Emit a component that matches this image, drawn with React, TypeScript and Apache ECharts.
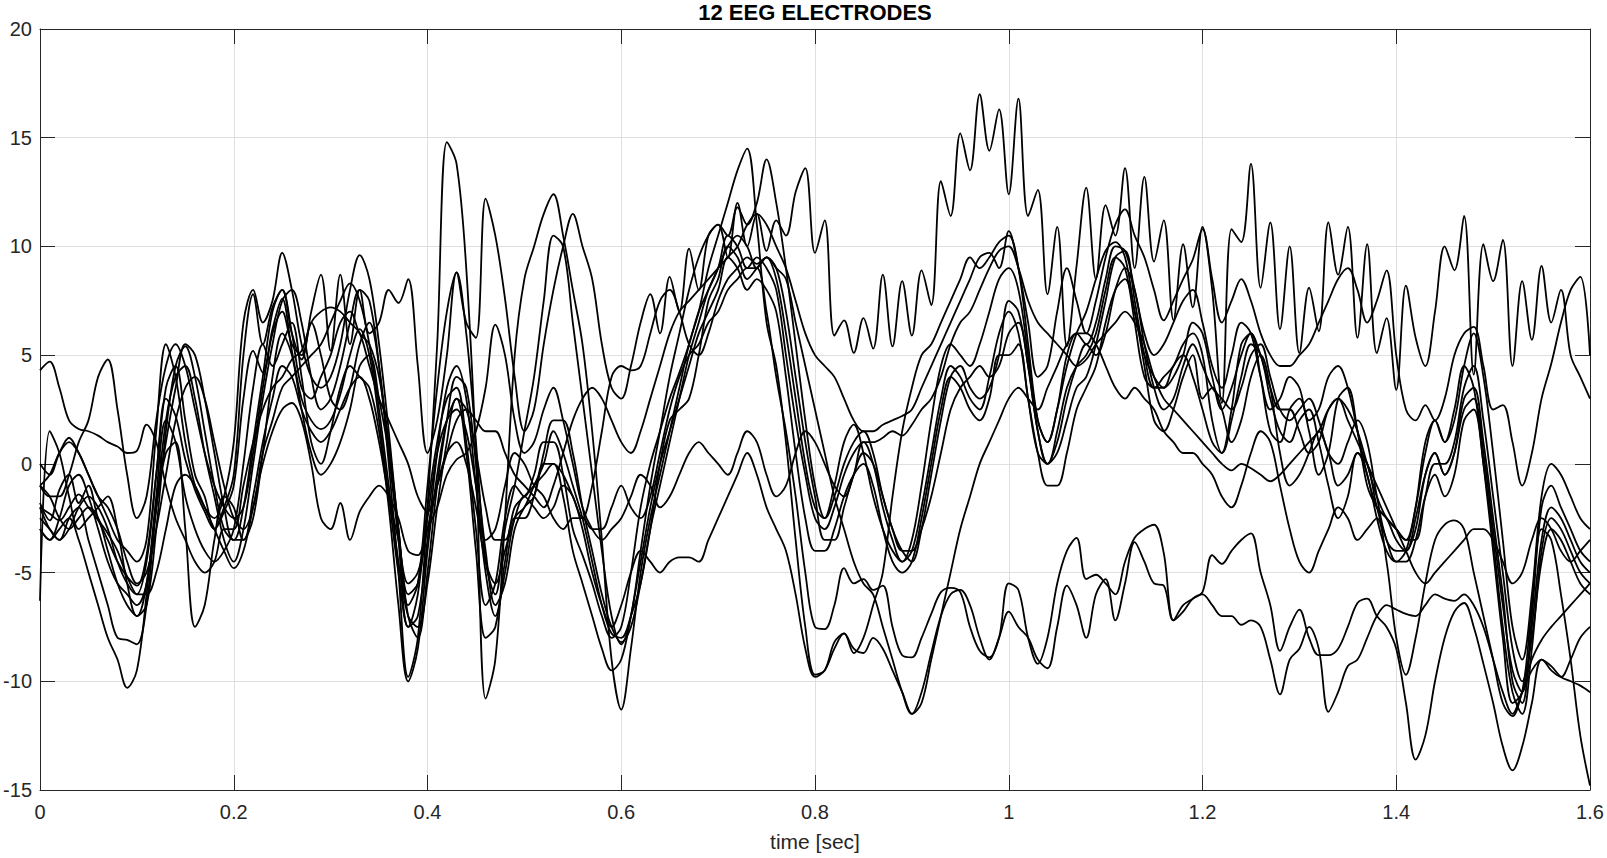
import React, { useEffect, useRef } from "react";
import * as echarts from "echarts";

const TITLE = "12 EEG ELECTRODES";
const X_NAME = "time [sec]";
const X_TICKS = { min: 0, max: 1.6, step: 0.2 };
const Y_TICKS = { min: -15, max: 20, step: 5 };

// sample times (0 .. 1.6 s, 10 ms spacing)
const TIME: number[] = Array.from({ length: 161 }, (_, i) => i / 100);

const E1 = [
  -1.8, -2.6, -1.2, -0.5, -1.8, -1.0, -2.5, -3.2, -4.0, -5.2,
  -6.0, -4.5, -0.5, 3.5, 4.5, 2.0, -0.5, -1.5, -3.0, -2.0,
  -0.5, 5.0, 7.8, 5.5, 7.2, 8.0, 6.0, 4.8, 7.0, 8.7,
  5.2, 8.7, 5.5, 8.0, 6.0, 6.5, 8.0, 7.4, 8.5, 4.5,
  0.5, 2.0, 5.0, 8.8, 6.5, 5.8, 12.2, 10.5, 7.6, 4.0,
  1.5, 2.5, 5.5, 8.0, 10.0, 11.5, 10.0, 8.5, 5.5, 3.5,
  3.0, 4.5, 6.5, 7.8, 6.0, 8.6, 7.0, 9.9, 8.0, 10.5,
  11.0, 9.5, 12.0, 10.0, 11.5, 9.8, 11.2, 10.5, 12.5, 13.6,
  9.7, 11.2, 5.9, 6.6, 5.1, 6.7, 5.3, 8.7, 5.4, 8.4,
  5.9, 8.9, 7.3, 13.0, 11.4, 15.2, 13.5, 17.0, 14.4, 16.3,
  12.4, 16.8, 11.4, 12.6, 7.8, 10.9, 5.4, 9.1, 12.7, 8.5,
  11.9, 10.5, 13.6, 9.0, 13.2, 9.3, 11.2, 6.6, 10.1, 7.2,
  10.9, 8.0, 2.8, 10.8, 10.2, 13.8, 8.1, 11.1, 6.2, 10.0,
  5.1, 8.1, 6.1, 11.1, 8.7, 10.9, 5.8, 10.1, 5.1, 6.7,
  3.4, 8.2, 5.8, 4.5, 7.0, 10.0, 8.9, 11.4, 4.1, 10.1,
  8.4, 10.3, 4.5, 8.4, 5.7, 9.1, 6.5, 8.0, 5.0, 4.0,
  3.0,
];

const E2 = [
  -3.0, -3.5, -2.5, -1.0, -0.5, -1.5, -3.0, -4.5, -5.5, -6.0,
  -6.5, -5.5, -2.0, 2.0, 4.0, 4.5, 3.0, 0.5, -1.5, -3.5,
  -4.5, -3.0, 0.0, 3.0, 5.5, 7.5, 8.0, 6.5, 4.0, 2.5,
  3.0, 4.5, 6.5, 8.0, 7.5, 4.5, 0.0, -5.0, -9.8, -8.0,
  -2.0, 5.5, 14.8, 13.8, 9.0, 0.5, -10.8, -9.0, -2.5, 5.0,
  8.5, 10.0, 11.5, 12.4, 10.5, 8.0, 5.5, 1.5, -3.5, -9.0,
  -11.3, -8.5, -5.0, -2.5, -0.5, 1.5, 3.5, 5.5, 7.0, 9.0,
  10.5, 12.0, 13.5, 14.5, 11.0, 6.5, 4.5, 1.0, -3.5, -7.5,
  -9.7, -9.5, -8.2, -7.8, -8.7, -8.0, -6.5, -5.0, -1.5, 1.5,
  3.5, 5.0, 5.5, 6.5, 7.5, 8.5, 9.5, 9.0, 9.5, 10.2,
  10.5, 9.0, 5.5, 2.0, 1.0, 2.5, 4.5, 6.0, 7.0, 8.5,
  9.8, 10.2, 9.5, 7.0, 5.0, 4.0, 3.5, 4.5, 5.0, 4.0,
  2.5, 1.0, 0.5, 2.0, 4.0, 5.5, 5.0, 3.0, 1.5, 1.0,
  2.0, 2.5, 1.0, -1.0, -2.5, -1.5, 0.5, 0.0, -2.0, -3.5,
  -4.5, -4.0, -2.0, 1.0, 2.0, 1.0, 2.5, 4.5, 3.5, 0.0,
  -4.0, -8.0, -11.0, -10.5, -6.5, -3.0, -3.5, -6.0, -9.0, -12.5,
  -14.8,
];

const E3 = [
  -2.0, -2.3, -2.6, -2.0, -1.4, -2.0, -2.6, -3.5, -4.5, -5.2,
  -5.6, -4.2, -0.5, 3.0, 2.2, 0.2, -1.2, -2.2, -3.0, -2.2,
  -1.0, 3.0, 5.2, 4.2, 6.2, 7.6, 5.2, 3.0, 2.0, 1.6,
  2.0, 3.2, 5.0, 6.2, 5.0, 2.0, -1.5, -5.0, -7.5, -6.0,
  -2.0, 1.0, 3.0, 3.5, 1.0, -3.0, -6.5, -5.5, -2.5, -1.0,
  -1.5, -0.5, 1.0, 1.0, -0.5, -3.0, -4.2, -5.5, -7.0, -8.0,
  -7.5, -5.0, -2.0, 0.0, 1.5, 3.0, 4.2, 5.5, 7.0, 8.0,
  9.0, 10.5, 10.0, 9.0, 9.5, 9.0, 8.0, 5.0, 2.0, -0.5,
  -2.5, -3.0, -2.0, -0.5, 0.5, 1.0, 0.0, -2.0, -3.5, -4.5,
  -4.0, -2.0, 0.5, 3.0, 4.5, 4.0, 3.0, 2.5, 4.0, 6.0,
  7.0, 6.0, 3.0, 0.5, 0.0, 1.5, 3.5, 4.5, 5.0, 6.0,
  8.0, 9.5, 9.0, 6.5, 4.0, 3.5, 4.0, 4.5, 5.5, 6.0,
  5.0, 2.0, 0.5, 2.5, 5.5, 6.0, 4.0, 1.5, 1.0, 2.5,
  3.0, 1.5, -0.5, 0.5, 3.0, 3.5, 1.5, -1.0, -2.0, -2.5,
  -3.5, -4.0, -3.0, -0.5, 0.5, -0.5, 0.5, 3.0, 3.5, 1.0,
  -2.5, -6.0, -10.0, -11.0, -7.0, -2.0, -1.0, -2.0, -3.0, -4.0,
  -4.5,
];

const E4 = [
  -1.0, -0.5, 0.5, 1.0, 0.5, -0.5, -1.5, -2.5, -3.5, -4.0,
  -4.5, -3.5, 1.5, 5.5, 4.0, 1.0, -1.0, -2.0, -2.5, -1.5,
  1.0, 6.5, 8.0, 6.5, 7.5, 9.7, 8.0, 5.5, 4.0, 3.5,
  4.0, 5.5, 8.0, 9.6, 8.5, 5.5, 1.5, -3.0, -6.5, -5.5,
  -1.0, 3.5, 7.0, 8.8, 6.0, 1.0, -4.5, -6.0, -3.0, -1.0,
  1.5, 4.0, 7.5, 10.5, 10.0, 6.5, 3.0, -0.5, -4.0, -7.0,
  -8.3, -7.0, -4.0, -1.0, 1.5, 4.0, 6.0, 8.0, 9.5, 10.5,
  11.0, 10.5, 11.8, 11.0, 12.0, 14.0, 12.0, 9.0, 5.5, 2.0,
  -1.0, -2.5, -1.0, 1.0, 1.8, 0.5, -1.5, -3.0, -4.0, -4.5,
  -3.5, -1.0, 2.0, 4.5, 5.5, 5.0, 4.5, 5.5, 7.0, 8.5,
  9.0, 8.0, 5.0, 2.0, 1.0, 2.5, 5.0, 6.0, 5.5, 6.5,
  8.5, 10.0, 9.8, 8.0, 6.0, 5.0, 5.5, 6.5, 7.5, 8.0,
  6.5, 4.5, 3.5, 5.0, 6.5, 6.0, 4.0, 2.5, 3.0, 4.0,
  3.5, 2.0, 2.5, 4.0, 4.5, 3.5, 1.5, -0.5, -2.0, -2.5,
  -3.0, -3.5, -2.0, 0.5, 2.0, 1.0, 2.0, 4.5, 6.0, 4.0,
  0.5, -3.5, -7.5, -9.0, -6.0, -1.5, 0.0, -0.5, -1.5, -2.5,
  -3.0,
];

const E5 = [
  -3.0, -3.5, -3.0, -2.5, -3.5, -5.0, -6.5, -8.0, -9.0, -10.3,
  -9.5, -6.0, -1.5, 2.0, 1.0, -1.5, -3.0, -4.0, -4.5, -4.0,
  -3.0, 0.0, 3.5, 5.5, 4.5, 5.5, 6.5, 4.0, 1.0, 0.0,
  1.5, 3.5, 4.5, 4.0, 3.5, 1.5, -2.0, -6.5, -10.0, -8.5,
  -4.0, -0.5, 2.0, 3.0, 0.5, -4.0, -8.0, -7.5, -4.5, -2.5,
  -2.5, -1.5, 0.0, 0.0, -1.5, -4.0, -5.5, -7.0, -8.5, -9.5,
  -9.0, -7.0, -4.5, -2.0, 0.0, 1.5, 3.0, 4.5, 6.0, 7.0,
  8.0, 9.5, 9.0, 8.0, 8.5, 8.0, 7.0, 4.0, 0.5, -2.5,
  -4.0, -4.0, -3.0, -1.5, -0.5, 0.0, -1.0, -3.0, -4.5, -5.0,
  -4.5, -2.5, 0.0, 2.5, 4.0, 3.5, 2.5, 2.0, 3.0, 5.0,
  5.0, 5.5, 3.0, 0.5, -1.0, -1.0, 0.5, 2.5, 3.5, 4.5,
  6.5, 8.0, 8.5, 7.0, 4.5, 2.0, 1.5, 2.5, 4.0, 5.0,
  3.0, 3.5, 2.5, 1.0, 2.0, 4.0, 5.0, 3.5, 0.5, -1.0,
  -0.5, 0.5, 1.5, 0.5, -1.0, -0.5, 0.5, -0.5, -2.5, -4.0,
  -4.5, -4.5, -3.5, -1.5, -0.5, -1.5, -0.5, 2.0, 2.5, 0.0,
  -3.5, -7.5, -10.5, -11.5, -8.5, -4.0, -2.5, -3.0, -4.0, -5.0,
  -5.5,
];

const E6 = [
  -1.0, -1.5, -1.5, -0.5, 1.0, 2.0, 4.0, 4.8, 2.5, -0.5,
  -2.5, -1.5, 2.0, 4.5, 5.5, 4.5, 2.5, 0.5, -1.0, -2.0,
  -2.5, -2.0, 0.5, 3.5, 6.0, 7.0, 5.5, 5.0, 6.5, 5.0,
  3.0, 2.5, 3.5, 5.5, 6.5, 4.5, 0.5, -3.5, -7.5, -7.0,
  -3.5, 0.5, 3.5, 4.5, 3.0, -1.0, -5.0, -7.0, -5.0, -2.5,
  -2.0, -1.0, 0.0, 1.5, 0.5, -1.0, -2.5, -4.5, -6.5, -7.8,
  -8.0, -7.0, -5.5, -3.0, 0.0, 2.0, 2.5, 3.0, 5.0, 7.5,
  8.5, 10.0, 9.5, 8.5, 9.0, 9.5, 8.5, 6.0, 3.0, 0.0,
  -2.0, -2.5, -1.5, 0.0, 1.0, 1.5, 0.5, -1.5, -3.0, -4.0,
  -4.0, -3.0, -1.5, 0.5, 2.5, 3.5, 4.0, 4.5, 4.0, 4.5,
  6.0, 6.5, 4.5, 1.5, 0.0, 1.0, 3.0, 4.5, 5.5, 5.0,
  6.0, 8.0, 9.0, 8.0, 5.5, 3.5, 2.5, 3.0, 4.5, 5.5,
  4.5, 3.5, 3.0, 2.5, 3.5, 5.0, 5.5, 4.0, 2.5, 2.0,
  2.5, 3.0, 2.0, 0.5, 0.0, 1.0, 2.0, 1.0, -1.5, -3.5,
  -4.0, -4.0, -2.5, -0.5, 0.5, -0.5, 0.5, 2.5, 3.0, 0.5,
  -3.0, -6.5, -9.5, -10.5, -7.5, -3.5, -2.0, -2.5, -3.5, -4.5,
  -5.0,
];

const E7 = [
  -6.3, 1.5, 0.5, -1.5, -3.0, -2.5, -2.0, -1.5, -3.0, -5.5,
  -7.0, -6.5, -3.0, 1.5, 4.5, 5.4, 4.0, 1.5, -1.0, -3.0,
  -3.5, -2.0, 1.0, 4.0, 7.0, 8.0, 6.0, 3.5, 3.0, 4.0,
  5.0, 6.5, 7.0, 6.0, 5.5, 4.0, 1.0, -3.0, -7.0, -8.0,
  -5.0, -1.0, 2.0, 4.0, 3.5, 0.0, -4.0, -6.5, -5.5, -3.0,
  -2.0, -1.5, 0.5, 2.0, 2.0, 0.5, -2.0, -4.0, -6.0, -7.5,
  -8.2, -7.5, -5.5, -3.0, -1.0, 1.0, 3.0, 5.0, 6.5, 8.0,
  9.0, 10.0, 10.5, 10.0, 9.0, 9.5, 9.0, 7.0, 4.0, 1.0,
  -1.5, -3.5, -3.5, -2.0, -0.5, 0.5, 0.0, -1.5, -3.0, -4.0,
  -4.5, -3.0, -0.5, 2.0, 4.0, 4.5, 3.5, 3.0, 3.5, 5.0,
  7.5, 7.0, 4.5, 1.5, 0.0, 0.5, 2.0, 3.5, 4.0, 5.5,
  7.5, 9.5, 9.8, 7.5, 5.0, 3.5, 3.5, 4.0, 5.0, 6.5,
  6.0, 4.0, 2.5, 3.5, 5.0, 6.0, 5.0, 3.5, 2.5, 2.5,
  1.5, 0.5, 1.0, 2.5, 3.0, 2.5, 1.5, 0.0, -1.5, -2.5,
  -3.0, -3.5, -3.5, -1.5, 0.0, 0.0, 1.0, 3.5, 4.5, 2.0,
  -1.5, -5.0, -8.5, -10.0, -8.0, -4.5, -3.0, -3.5, -4.5, -5.5,
  -6.0,
];

const E8 = [
  -2.0, -3.0, -3.5, -3.0, -2.0, -1.5, -2.0, -3.0, -4.5, -5.5,
  -6.0, -6.0, -5.0, -3.0, -1.0, -0.5, -1.0, -2.0, -3.0, -4.0,
  -4.8, -4.0, -2.0, 0.0, 1.5, 2.5, 2.8, 2.0, 0.0, -2.5,
  -3.0, -1.8, -3.5, -2.2, -1.5, -1.0, -1.5, -2.5, -4.0, -4.2,
  -3.0, -2.0, -0.5, 0.2, 0.5, 1.5, 3.5, 6.4, 5.0, 2.0,
  0.5, 1.0, 2.5, 3.5, 2.0, 0.0, -2.0, -3.0, -3.5, -3.0,
  -2.5, -1.5, -0.5, -1.0, -2.0, -1.5, -0.5, 0.5, 1.0, 0.5,
  0.0, -0.5, 0.5, 1.5, 1.0, -0.5, -1.5, -1.0, 0.5, 1.5,
  1.0, 0.0, -1.0, -1.5, -0.5, 1.0, 1.0, 1.2, 1.5, 1.3,
  1.8, 2.5, 3.0, 4.0, 5.5, 6.5, 7.0, 8.0, 9.0, 9.8,
  10.0, 9.0, 7.5, 6.5, 6.0, 5.5, 5.0, 4.5, 4.8, 5.5,
  6.0, 6.5, 7.0, 6.5, 5.5, 4.0, 3.0, 2.5, 2.0, 1.5,
  1.0, 0.5, 0.0, -0.3, 0.0, -0.2, -0.5, -0.8, -0.5, 0.0,
  0.5, 1.0, 1.5, 2.5, 3.0, 2.0, 1.0, 0.0, -1.0, -2.0,
  -3.0, -4.0, -5.0, -5.5, -5.0, -4.5, -4.0, -3.5, -3.0, -3.0,
  -3.5, -4.5, -5.5, -5.0, -3.5, -2.5, -3.0, -4.0, -4.5, -4.0,
  -3.5,
];

const E9 = [
  -1.0, -1.5, -2.5, -3.0, -2.5, -2.0, -2.5, -4.0, -5.5, -6.5,
  -7.0, -5.5, -2.0, 0.5, 1.0, -3.0, -7.5, -6.5, -3.5, -1.5,
  -2.0, -3.5, -2.5, 0.5, 4.0, 6.0, 5.0, 2.5, 0.5, -0.5,
  0.0, 1.0, 2.5, 4.5, 5.0, 3.0, 0.5, -3.0, -6.0, -5.5,
  -2.5, 0.5, 2.0, 2.5, 1.5, -1.0, -3.5, -3.0, -1.0, 0.5,
  0.0, -1.0, -1.5, -2.5, -3.0, -2.5, -2.5, -3.0, -3.0, -2.0,
  -1.0, -2.0, -2.5, -1.5, 0.5, 2.5, 4.0, 5.0, 5.5, 6.5,
  7.0, 8.0, 8.5, 9.0, 9.0, 7.0, 4.0, 1.5, -1.5, -5.0,
  -7.5, -7.6, -6.5, -4.8, -5.5, -5.3, -5.8, -5.6, -7.5, -8.8,
  -8.9, -8.0, -6.9, -5.9, -5.7, -5.9, -7.5, -8.6, -8.9, -8.0,
  -5.5, -5.8, -8.0, -9.2, -8.0, -5.5, -4.0, -3.4, -5.3, -5.1,
  -5.5, -6.0, -4.5, -3.4, -3.0, -2.8, -4.1, -7.2, -6.5, -6.2,
  -5.9, -4.2, -4.6, -4.0, -3.5, -3.2, -5.0, -6.5, -8.6, -7.5,
  -6.7, -8.0, -8.8, -8.8, -8.5, -7.5, -6.4, -6.2, -7.0, -7.5,
  -8.5, -11.0, -13.6, -12.5, -10.0, -8.0, -6.8, -6.4, -7.5, -9.2,
  -11.0, -13.0, -14.1, -13.0, -11.0, -9.0, -9.3, -9.8, -10.0, -10.2,
  -10.5,
];

const E10 = [
  -2.5, -3.0, -3.5, -2.5, -2.0, -3.5, -5.0, -6.5, -8.0, -8.1,
  -8.3, -6.5, -2.0, 1.0, 3.5, 5.5, 5.0, 3.0, 0.5, -2.0,
  -3.5, -3.5, -1.5, 1.0, 3.0, 4.5, 4.0, 2.5, 1.5, 1.0,
  1.5, 2.5, 3.5, 4.0, 3.0, 1.0, -1.5, -3.5, -5.5, -5.0,
  -3.0, -1.0, 0.5, 1.0, 0.0, -2.0, -4.5, -5.5, -4.0, -2.5,
  -1.5, -2.0, -2.5, -2.0, -1.0, -1.5, -3.0, -5.0, -6.5, -7.5,
  -6.5, -5.0, -4.0, -4.5, -5.0, -4.5, -4.3, -4.3, -4.5, -3.5,
  -2.5, -1.5, -0.5, 0.5, -0.5, -2.0, -3.0, -4.0, -6.0, -8.5,
  -9.8, -9.5, -8.5, -7.8, -8.5, -8.7, -8.0, -8.5, -9.5, -10.5,
  -11.5, -10.5, -8.7, -7.0, -6.0, -5.8, -6.5, -8.0, -9.0, -8.0,
  -6.8, -7.5, -8.0, -9.0, -9.4, -7.5, -5.6, -6.5, -8.0, -6.0,
  -5.3, -7.2, -5.5, -3.6, -4.5, -5.5, -5.6, -7.2, -6.8, -6.2,
  -6.0, -6.5, -7.0, -7.0, -7.4, -7.2, -7.5, -9.0, -10.6, -9.0,
  -8.5, -7.5, -8.5, -11.4, -10.5, -9.3, -9.0, -8.0, -7.0, -6.5,
  -6.7, -6.9, -7.0, -6.5, -6.0, -6.2, -6.3, -6.0, -6.5, -7.5,
  -9.0, -10.5, -11.5, -10.5, -9.5, -9.0, -9.5, -9.8, -9.0, -8.0,
  -7.5,
];

const E11 = [
  0.0, -0.5, 0.5, 1.2, 0.5, -0.5, -1.5, -2.0, -3.0, -4.5,
  -5.5, -5.0, -3.0, -0.5, 2.0, 3.5, 4.0, 3.0, 1.0, -1.0,
  -2.5, -3.0, -2.0, 0.5, 2.0, 3.5, 4.0, 4.5, 5.0, 5.5,
  6.5, 7.5, 8.3, 7.5, 5.5, 2.5, -1.0, -4.5, -7.0, -7.5,
  -5.5, -2.0, 1.0, 3.0, 2.5, 0.5, -2.0, -3.5, -3.5, -2.0,
  -1.5, -1.0, -0.5, 0.0, -0.5, -1.5, -2.5, -1.0, 1.5, 4.0,
  4.5, 4.3, 4.5, 6.0, 7.5, 8.0, 7.0, 5.5, 5.0, 6.0,
  7.5, 8.5, 9.0, 9.5, 9.2, 9.5, 9.0, 8.5, 6.5, 4.5,
  2.5, 0.5, -1.5, -3.0, -4.5, -5.5, -6.0, -7.5, -9.0, -10.5,
  -11.5, -11.0, -9.0, -7.0, -5.0, -3.0, -1.5, 0.0, 1.0, 2.0,
  3.0, 3.5, 3.0, 2.5, 3.5, 4.5, 5.5, 6.0, 6.0, 5.5,
  4.5, 3.5, 3.0, 3.5, 3.0, 2.5, 1.5, 1.0, 0.5, 0.5,
  0.0, -0.5, -1.5, -2.0, -1.0, 0.5, 1.5, 1.0, -1.0, -3.0,
  -4.5, -5.0, -4.0, -3.0, -2.0, -2.5, -3.5, -3.0, -2.5, -4.5,
  -8.0, -9.7, -8.0, -5.5, -3.5, -2.8, -2.6, -3.0, -5.0, -7.0,
  -9.0, -11.0, -11.6, -10.5, -9.0, -8.1, -7.5, -7.0, -6.5, -6.0,
  -5.5,
];

const E12 = [
  4.3, 4.7, 3.5, 2.0, 1.6, 1.5, 1.3, 1.0, 0.8, 0.5,
  0.6, 1.8, 1.0, -1.0, -2.5, -3.5, -4.5, -5.0, -4.5, -3.0,
  -3.0, -1.0, 1.0, 2.5, 3.5, 4.0, 4.8, 5.2, 6.5, 7.0,
  7.2, 7.0, 6.5, 6.0, 4.5, 3.0, 2.0, 1.0, 0.0, -1.5,
  -2.2, -1.0, 0.5, 2.0, 2.5, 2.0, 1.5, 1.5, 0.5, -0.5,
  -1.0, -1.5, -2.0, -1.0, 0.5, 2.0, 3.0, 3.5, 3.0, 2.0,
  1.0, 0.5, 1.5, 3.0, 4.5, 6.0, 7.0, 7.5, 8.0, 8.5,
  9.0, 9.5, 10.0, 11.0, 11.5, 11.0, 10.0, 9.0, 7.5, 6.0,
  5.0, 4.5, 4.0, 3.0, 2.0, 1.5, 1.5, 1.8, 2.0, 2.2,
  2.5, 3.5, 4.5, 5.5, 6.5, 7.5, 8.5, 9.5, 9.7, 9.0,
  10.7, 9.0, 6.5, 4.0, 4.5, 7.0, 9.0, 7.5, 6.0, 7.5,
  9.5, 11.0, 11.7, 10.5, 9.5, 8.0, 6.6, 7.5, 8.5, 9.4,
  10.8, 8.5, 6.5, 7.5, 8.5, 7.5, 6.0, 5.0, 4.5, 4.5,
  5.0, 5.5, 6.5, 7.5, 8.5, 9.0, 8.0, 6.5, 7.5, 8.9,
  5.0, 2.5, 2.0, 2.7, 2.0, 3.0, 5.0, 6.0, 6.3, 4.5,
  2.5, 2.7, 1.0, -1.0, 0.5, 3.0, 4.6, 6.5, 8.0, 8.6,
  5.0,
];

const ELECTRODES = [E1, E2, E3, E4, E5, E6, E7, E8, E9, E10, E11, E12];

const FONT = "'Liberation Sans', Arial, Helvetica, sans-serif";
const INK = "#262626";

export default function App() {
  const ref = useRef<HTMLDivElement>(null);

  useEffect(() => {
    if (!ref.current) return;
    const chart = echarts.init(ref.current, undefined, { renderer: "svg" });

    const axisLine = { show: true, onZero: false, lineStyle: { color: INK, width: 1 } };
    const tick = { show: true, inside: true, length: 15, lineStyle: { color: INK, width: 1 } };

    const option: any = {
      animation: false,
      backgroundColor: "#ffffff",
      grid: { left: 40, right: 17, top: 29, bottom: 68, containLabel: false },
      graphic: [
        {
          type: "text",
          x: 815,
          y: 12,
          style: {
            text: TITLE,
            fill: "#000000",
            fontFamily: FONT,
            fontWeight: "bold",
            fontSize: 22,
            align: "center",
            verticalAlign: "middle",
          },
        },
      ],
      xAxis: [
        {
          type: "value",
          min: X_TICKS.min,
          max: X_TICKS.max,
          interval: X_TICKS.step,
          position: "bottom",
          name: X_NAME,
          nameLocation: "middle",
          nameGap: 41,
          nameTextStyle: { fontSize: 21, color: INK, fontFamily: FONT },
          axisLine,
          axisTick: tick,
          axisLabel: {
            fontSize: 20,
            color: INK,
            fontFamily: FONT,
            margin: 12,
            formatter: (v: number) => String(parseFloat(v.toFixed(1))),
          },
          splitLine: { show: true, lineStyle: { color: "#dfdfdf", width: 1 } },
        },
        {
          type: "value",
          min: X_TICKS.min,
          max: X_TICKS.max,
          interval: X_TICKS.step,
          position: "top",
          axisLine,
          axisTick: tick,
          axisLabel: { show: false },
          splitLine: { show: false },
        },
      ],
      yAxis: [
        {
          type: "value",
          min: Y_TICKS.min,
          max: Y_TICKS.max,
          interval: Y_TICKS.step,
          position: "left",
          axisLine,
          axisTick: tick,
          axisLabel: { fontSize: 20, color: INK, fontFamily: FONT, margin: 8 },
          splitLine: { show: true, lineStyle: { color: "#dfdfdf", width: 1 } },
        },
        {
          type: "value",
          min: Y_TICKS.min,
          max: Y_TICKS.max,
          interval: Y_TICKS.step,
          position: "right",
          axisLine,
          axisTick: tick,
          axisLabel: { show: false },
          splitLine: { show: false },
        },
      ],
      series: ELECTRODES.map((vals, k) => ({
        name: "E" + (k + 1),
        type: "line",
        xAxisIndex: 0,
        yAxisIndex: 0,
        data: TIME.map((t, i) => [t, vals[i]]),
        showSymbol: false,
        symbol: "none",
        smooth: 0.35,
        clip: true,
        lineStyle: { color: "#000000", width: 1.8 },
        emphasis: { disabled: true },
      })),
    };

    chart.setOption(option);
    return () => chart.dispose();
  }, []);

  return (
    <div
      ref={ref}
      style={{ position: "fixed", left: 0, top: 0, width: 1607, height: 858, background: "#fff" }}
    />
  );
}
